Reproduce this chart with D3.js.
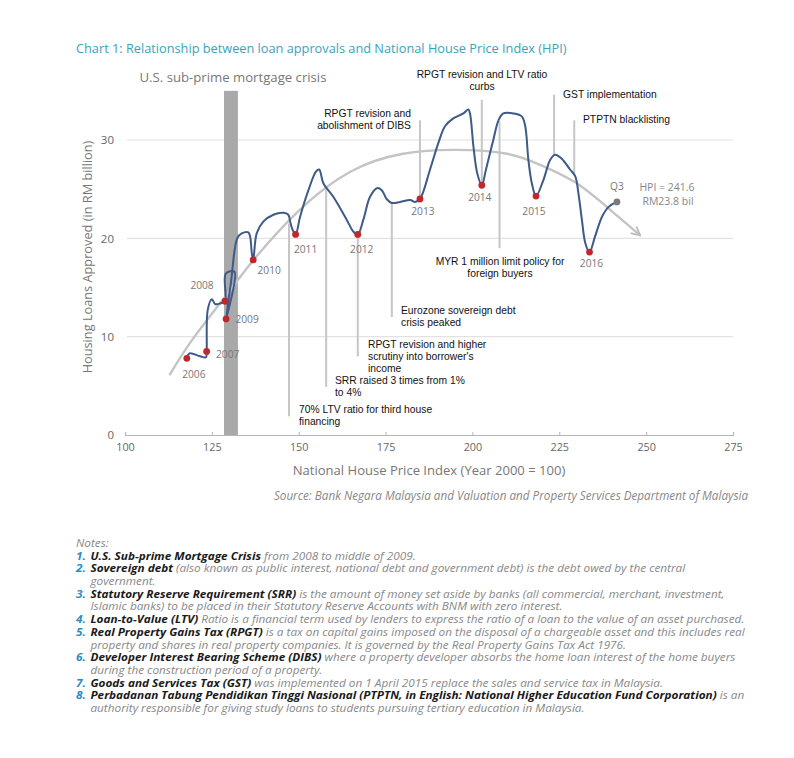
<!DOCTYPE html>
<html>
<head>
<meta charset="utf-8">
<script src="https://cdn.jsdelivr.net/npm/d3@7"></script>
<style>
  body { margin: 0; background: #fff; }
  svg { display: block; font-family: "Open Sans", sans-serif; }
</style>
</head>
<body>
<div id="chart"></div>
<script>
// loan approvals vs house price index, quarterly path (HPI, RM bil)
const pathHPI = [117.8,118.6,121.6,123.3,123.5,123.8,125.0,126.0,127.5,128.8,129.0,131.5,129.4,129.1,130.5,132.3,133.6,135.5,136.0,136.5,136.9,
  137.9,139.8,142.7,145.6,147.0,147.6,148.2,149.1,150.4,152.8,155.0,155.9,157.1,160.0,163.8,165.7,167.0,
  168.6,170.5,172.5,173.9,175.3,176.8,179.2,182.1,183.5,184.9,187.8,190.2,192.1,194.5,197.4,198.8,199.3,200.3,201.4,202.7,
  203.9,206.0,207.5,208.9,211.8,214.2,215.2,216.1,217.1,218.3,220.4,222.4,223.8,225.7,228.1,229.6,230.5,231.5,232.5,233.7,
  235.3,237.3,239.2,241.6];
const pathLoans = [7.8,8.3,8.0,7.9,8.5,12.7,13.8,13.3,13.4,13.6,16.4,16.6,12.2,11.8,15.5,20.0,20.5,20.6,20.2,18.5,17.8,
  20.5,21.7,22.4,22.6,22.4,21.6,20.9,20.4,22.2,24.9,26.8,27.0,25.6,24.2,21.9,20.7,20.4,
  21.9,24.2,25.1,24.9,24.0,23.6,23.7,23.9,23.7,24.0,27.0,29.7,31.4,32.2,32.7,33.1,32.7,29.3,26.6,25.4,
  27.0,30.0,32.0,32.7,32.7,32.4,31.4,28.0,25.6,24.3,25.9,28.0,28.5,28.1,27.0,26.3,24.6,21.9,19.5,18.6,
  20.2,22.2,23.2,23.7];

// annual points
const years = ["2006","2007","2008","2009","2010","2011","2012","2013","2014","2015","2016","Q3"];
const yearHPI = [117.8,123.5,128.8,129.1,136.9,149.1,167.0,184.9,202.7,218.3,233.7,241.6];
const yearLoans = [7.8,8.5,13.6,11.8,17.8,20.4,20.4,24.0,25.4,24.3,18.6,23.7];

// trend curve
const trendHPI = [112.8,120,130,137,150,165,180,195,210,220,230,240,248.3];
const trendLoans = [6.1,10.0,14.6,17.8,22.8,26.8,28.6,29.0,28.6,27.4,25.6,22.8,20.3];

const xTicks = [100,125,150,175,200,225,250,275];
const yTicks = [0,10,20,30];

// sub-prime crisis band (HPI range)
const crisisHPI = [128.5, 132.5];
const crisisTop = 35;

// policy events: HPI of marker, loans range of marker, text
const eventHPI = [184.9,202.7,223.5,229.3,207.8,176.8,167.0,157.9,147.2];
const eventFrom = [24.0,25.6,28.5,26.6,31.9,23.6,20.4,25.2,21.5];
const eventTo = [32.0,34.1,34.6,32.0,19.0,12.0,8.0,4.9,1.9];
const eventText = [
  ["RPGT revision and","abolishment of DIBS"],
  ["RPGT revision and LTV ratio","curbs"],
  ["GST implementation"],
  ["PTPTN blacklisting"],
  ["MYR 1 million limit policy for","foreign buyers"],
  ["Eurozone sovereign debt","crisis peaked"],
  ["RPGT revision and higher","scrutiny into borrower's","income"],
  ["SRR raised 3 times from 1%","to 4%"],
  ["70% LTV ratio for third house","financing"]
];

const notes = [
  ["1.","U.S. Sub-prime Mortgage Crisis"," from 2008 to middle of 2009."],
  ["2.","Sovereign debt"," (also known as public interest, national debt and government debt) is the debt owed by the central"],
  ["","","government."],
  ["3.","Statutory Reserve Requirement (SRR)"," is the amount of money set aside by banks (all commercial, merchant, investment,"],
  ["","","Islamic banks) to be placed in their Statutory Reserve Accounts with BNM with zero interest."],
  ["4.","Loan-to-Value (LTV)"," Ratio is a financial term used by lenders to express the ratio of a loan to the value of an asset purchased."],
  ["5.","Real Property Gains Tax (RPGT)"," is a tax on capital gains imposed on the disposal of a chargeable asset and this includes real"],
  ["","","property and shares in real property companies. It is governed by the Real Property Gains Tax Act 1976."],
  ["6.","Developer Interest Bearing Scheme (DIBS)"," where a property developer absorbs the home loan interest of the home buyers"],
  ["","","during the construction period of a property."],
  ["7.","Goods and Services Tax (GST)"," was implemented on 1 April 2015 replace the sales and service tax in Malaysia."],
  ["8.","Perbadanan Tabung Pendidikan Tinggi Nasional (PTPTN, in English: National Higher Education Fund Corporation)"," is an"],
  ["","","authority responsible for giving study loans to students pursuing tertiary education in Malaysia."]
];

const W = 794, H = 758;
const svg = d3.select("#chart").append("svg").attr("width", W).attr("height", H);
svg.append("rect").attr("width", W).attr("height", H).attr("fill", "#fff");

const x = d3.scaleLinear().domain([100, 275]).range([125, 733]);
const y = d3.scaleLinear().domain([0, 30]).range([435, 140]);

function fit(t, w) {
  const len = t.node().getComputedTextLength();
  t.attr("font-size", +t.attr("font-size") * w / len);
  return t;
}

// title
fit(svg.append("text").attr("x", 76).attr("y", 53).attr("font-size", 13)
  .attr("fill", "#3d9fbe").text("Chart 1: Relationship between loan approvals and National House Price Index (HPI)"), 491);

// gridlines
svg.append("g").selectAll("line").data(yTicks.filter(d => d > 0)).join("line")
  .attr("x1", 127).attr("x2", 733).attr("y1", d => y(d)).attr("y2", d => y(d))
  .attr("stroke", "#e2e2e2").attr("stroke-width", 1.2);

// x axis
const xAxis = svg.append("g").attr("transform", `translate(0,${y(0)})`)
  .call(d3.axisBottom(x).tickValues(xTicks).tickSize(-3).tickPadding(8));
xAxis.select(".domain").attr("stroke", "#b5b5b5").attr("stroke-width", 1.2);
xAxis.selectAll(".tick line").attr("stroke", "#b5b5b5");
xAxis.selectAll("text").attr("font-size", 10.8).attr("fill", "#666").attr("font-family", "Open Sans");

// y tick labels
const yAxis = svg.append("g").attr("transform", "translate(120,0)")
  .call(d3.axisLeft(y).tickValues(yTicks).tickSize(0).tickPadding(6));
yAxis.select(".domain").remove();
yAxis.selectAll("text").attr("font-size", 11.5).attr("fill", "#666").attr("font-family", "Open Sans");

// axis titles
fit(svg.append("text").attr("x", 429).attr("y", 475).attr("text-anchor", "middle")
  .attr("font-size", 15).attr("fill", "#777").text("National House Price Index (Year 2000 = 100)"), 273);
fit(svg.append("text").attr("transform", "translate(92,257) rotate(-90)").attr("text-anchor", "middle")
  .attr("font-size", 14).attr("fill", "#777").text("Housing Loans Approved (in RM billion)"), 233);

// crisis band
svg.append("rect").attr("x", x(crisisHPI[0])).attr("width", x(crisisHPI[1]) - x(crisisHPI[0]))
  .attr("y", y(crisisTop)).attr("height", y(0) - y(crisisTop)).attr("fill", "#a9a9a9");
fit(svg.append("text").attr("x", 233).attr("y", 82).attr("text-anchor", "middle")
  .attr("font-size", 14).attr("fill", "#777").text("U.S. sub-prime mortgage crisis"), 187);

// event markers
svg.append("g").selectAll("line").data(eventHPI).join("line")
  .attr("x1", d => x(d)).attr("x2", d => x(d))
  .attr("y1", (d, i) => y(eventFrom[i])).attr("y2", (d, i) => y(eventTo[i]))
  .attr("stroke", "#c6c6c6").attr("stroke-width", 2);

// trend
svg.append("defs").append("marker").attr("id", "arr")
  .attr("viewBox", "0 0 10 10").attr("refX", 9).attr("refY", 5)
  .attr("markerWidth", 11).attr("markerHeight", 11).attr("markerUnits", "userSpaceOnUse")
  .attr("orient", "auto")
  .append("path").attr("d", "M1,1 L9,5 L1,9").attr("fill", "none")
  .attr("stroke", "#bdbdbd").attr("stroke-width", 1.6);

const trendLine = d3.line().x(d => x(d[0])).y(d => y(d[1])).curve(d3.curveNatural);
svg.append("path").datum(d3.zip(trendHPI, trendLoans)).attr("d", trendLine)
  .attr("fill", "none").attr("stroke", "#c4c4c4").attr("stroke-width", 2.4)
  .attr("marker-end", "url(#arr)");

// loans path
const loanLine = d3.line().x(d => x(d[0])).y(d => y(d[1])).curve(d3.curveCatmullRom.alpha(0.5));
svg.append("path").datum(d3.zip(pathHPI, pathLoans)).attr("d", loanLine)
  .attr("fill", "none").attr("stroke", "#3e5a88").attr("stroke-width", 2);

// annual dots
svg.append("g").selectAll("circle").data(years).join("circle")
  .attr("cx", (d, i) => x(yearHPI[i])).attr("cy", (d, i) => y(yearLoans[i]))
  .attr("r", 3.4).attr("fill", d => d === "Q3" ? "#7a7a7a" : "#c0272d");

// year labels, offsets in px from the dot
const labelOff = {"2006":[7,20],"2007":[21,7],"2008":[-23,-12],"2009":[21,4],"2010":[16,14],"2011":[10,19],
  "2012":[4,19],"2013":[3,16],"2014":[-2,16],"2015":[-2,19],"2016":[2,15],"Q3":[0,-12]};
svg.append("g").selectAll("text").data(years).join("text")
  .attr("x", (d, i) => x(yearHPI[i]) + labelOff[d][0])
  .attr("y", (d, i) => y(yearLoans[i]) + labelOff[d][1])
  .attr("text-anchor", "middle").attr("font-size", 10.2).attr("fill", "#777").text(d => d);

svg.append("text").attr("x", 667).attr("y", 191).attr("text-anchor", "middle")
  .attr("font-size", 10.5).attr("fill", "#888").text("HPI = 241.6");
svg.append("text").attr("x", 668).attr("y", 205).attr("text-anchor", "middle")
  .attr("font-size", 10.5).attr("fill", "#888").text("RM23.8 bil");

// event texts: [x px, first baseline px, anchor]
const eventPos = [[411,117,"end"],[482,78,"middle"],[563,98,"start"],[583,123,"start"],[500,265,"middle"],
  [401,314,"start"],[368,348,"start"],[335,384,"start"],[299,413,"start"]];
eventText.forEach((lines, i) => {
  const t = svg.append("text").attr("font-family", "Liberation Sans, Arial, sans-serif")
    .attr("font-size", 10.3).attr("fill", "#111").attr("text-anchor", eventPos[i][2]);
  lines.forEach((s, j) => t.append("tspan").attr("x", eventPos[i][0]).attr("y", eventPos[i][1] + j * 11.8).text(s));
});

// source
fit(svg.append("text").attr("x", 748).attr("y", 500).attr("text-anchor", "end")
  .attr("font-size", 11).attr("font-style", "italic").attr("fill", "#888")
  .text("Source: Bank Negara Malaysia and Valuation and Property Services Department of Malaysia"), 475);

// notes (stretched horizontally so line 4 reaches x=745, like the condensed original)
const notesOuter = svg.append("g");
const notesG = notesOuter.append("g").attr("font-size", 10.6).attr("font-style", "italic");
notesG.append("text").attr("x", 76).attr("y", 547).attr("fill", "#888").text("Notes:");
const noteRows = notesG.selectAll("text.row").data(notes).join("text").attr("class", "row")
  .attr("y", (d, i) => 547 + (i + 1) * 12.7);
noteRows.filter(d => d[0]).append("tspan").attr("x", 76).attr("font-weight", 700).attr("fill", "#2b8cc4").text(d => d[0]);
noteRows.filter(d => d[1]).append("tspan").attr("x", 89).attr("font-weight", 700).attr("fill", "#1a1a1a").text(d => d[1]);
noteRows.append("tspan").attr("fill", "#888").attr("x", d => d[1] ? null : 89).text(d => d[2]);
const l4 = noteRows.filter((d, i) => i === 5).node().getBBox();
const sx = (745 - 76) / (l4.x + l4.width - 76);
notesOuter.attr("transform", `translate(76,0) scale(${sx},1) translate(-76,0)`);
</script>
</body>
</html>
